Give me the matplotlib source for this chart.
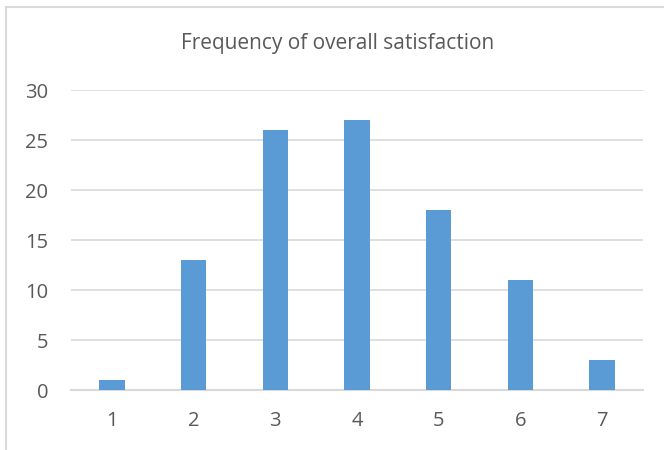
import matplotlib
matplotlib.use('Agg')
import matplotlib.pyplot as plt
from matplotlib.patches import Rectangle

categories = ['1', '2', '3', '4', '5', '6', '7']
counts = [1, 13, 26, 27, 18, 11, 3]
yticks = [0, 5, 10, 15, 20, 25, 30]

W, H = 664, 450
fig = plt.figure(figsize=(W / 100, H / 100), dpi=100)
plt.rcParams['font.family'] = ['Open Sans', 'DejaVu Sans']

# chart border (right and bottom run off the image)
fig.patches.append(Rectangle((6 / W, -0.1), 1.2, 1 - 7 / H + 0.1,
                             transform=fig.transFigure, fill=False,
                             edgecolor='#D9D9D9', linewidth=1.5))

ax = fig.add_axes([71 / W, 60 / H, (643 - 71) / W, 300 / H])
x = range(len(categories))
ax.bar(x, counts, width=0.31, color='#5B9BD5', zorder=3)
ax.set_xlim(-0.5, len(categories) - 0.5)
ax.set_ylim(0, 30)
ax.set_yticks(yticks)
ax.set_xticks(list(x))
ax.set_xticklabels(categories)
ax.grid(axis='y', color='#D9D9D9', linewidth=1.2, zorder=0)
for s in ['top', 'right', 'left']:
    ax.spines[s].set_visible(False)
ax.spines['bottom'].set_color('#D9D9D9')
ax.spines['bottom'].set_linewidth(1.5)
ax.tick_params(length=0, colors='#595959', labelsize=14.5)
ax.tick_params(axis='y', pad=16.5)
ax.tick_params(axis='x', pad=15)
fig.text(338 / W, 1 - 43 / H, 'Frequency of overall satisfaction',
         ha='center', va='center', fontsize=15, color='#595959')

fig.savefig('out.png', dpi=100)
